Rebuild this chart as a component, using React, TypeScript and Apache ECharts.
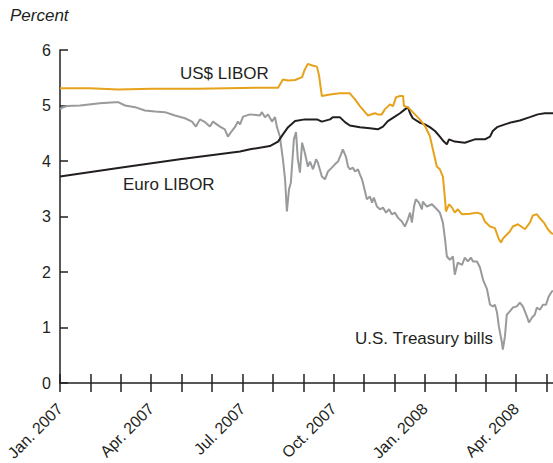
import React, { useEffect, useRef } from "react";
import * as echarts from "echarts";

// x values are months since Jan. 2007 (0 = Jan. 2007, 12 = Jan. 2008)
const monthLabels = ["Jan. 2007", "Apr. 2007", "Jul. 2007", "Oct. 2007", "Jan. 2008", "Apr. 2008"];
const yTicks = [0, 1, 2, 3, 4, 5, 6];

const usdLiborMonths = [0, 0.99, 1.91, 3.0, 4.5, 5.5, 6.5, 7.17, 7.33, 7.5, 7.73, 7.96, 8.05, 8.15, 8.3, 8.45, 8.52, 8.61, 8.88, 9.2, 9.53, 9.7, 9.86, 10.03, 10.12, 10.36, 10.45, 10.58, 10.68, 10.85, 10.95, 11.05, 11.18, 11.28, 11.31, 11.44, 11.67, 11.83, 12.0, 12.16, 12.26, 12.39, 12.49, 12.59, 12.66, 12.69, 12.79, 12.89, 12.98, 13.08, 13.22, 13.48, 13.71, 13.87, 13.97, 14.14, 14.3, 14.43, 14.5, 14.56, 14.79, 14.89, 15.06, 15.29, 15.45, 15.55, 15.68, 15.81, 15.91, 16.04, 16.14, 16.21];
const usdLiborValues = [5.31, 5.31, 5.29, 5.3, 5.3, 5.31, 5.32, 5.32, 5.47, 5.45, 5.46, 5.51, 5.65, 5.75, 5.72, 5.7, 5.53, 5.17, 5.2, 5.22, 5.22, 5.11, 4.99, 4.88, 4.82, 4.86, 4.84, 4.84, 4.93, 5.02, 4.99, 5.15, 5.17, 5.17, 4.99, 4.97, 4.84, 4.75, 4.63, 4.45, 4.21, 3.9, 3.85, 3.72, 3.31, 3.09, 3.22, 3.16, 3.07, 3.13, 3.04, 3.05, 3.07, 3.04, 2.91, 2.82, 2.79, 2.59, 2.53, 2.6, 2.73, 2.82, 2.86, 2.77, 2.89, 3.02, 3.04, 2.95, 2.89, 2.77, 2.71, 2.68];

const euroLiborMonths = [0, 1.97, 3.94, 5.92, 6.25, 6.9, 7.17, 7.33, 7.5, 7.73, 8.05, 8.45, 8.61, 8.88, 8.97, 9.2, 9.37, 9.53, 9.86, 10.19, 10.45, 10.62, 10.78, 11.01, 11.18, 11.34, 11.44, 11.51, 11.6, 11.83, 12.0, 12.16, 12.33, 12.49, 12.62, 12.72, 12.79, 12.98, 13.31, 13.64, 13.97, 14.14, 14.23, 14.37, 14.63, 14.86, 15.12, 15.45, 15.71, 15.94, 16.21];
const euroLiborValues = [3.72, 3.88, 4.03, 4.17, 4.21, 4.27, 4.35, 4.48, 4.61, 4.72, 4.75, 4.75, 4.71, 4.75, 4.79, 4.79, 4.7, 4.64, 4.61, 4.59, 4.57, 4.62, 4.72, 4.8, 4.86, 4.93, 4.97, 4.86, 4.77, 4.69, 4.66, 4.61, 4.54, 4.44, 4.35, 4.3, 4.39, 4.35, 4.33, 4.39, 4.39, 4.44, 4.54, 4.61, 4.66, 4.7, 4.73, 4.79, 4.84, 4.86, 4.86];

const tbillMonths = [0, 0.1, 0.23, 0.66, 1.31, 1.81, 1.91, 2.14, 2.47, 2.79, 3.12, 3.45, 3.78, 4.11, 4.34, 4.47, 4.6, 4.77, 4.93, 5.03, 5.26, 5.42, 5.52, 5.65, 5.75, 5.85, 5.92, 6.02, 6.25, 6.57, 6.64, 6.74, 6.84, 6.97, 7.07, 7.13, 7.23, 7.33, 7.4, 7.46, 7.53, 7.59, 7.69, 7.76, 7.82, 7.89, 7.96, 8.05, 8.15, 8.22, 8.32, 8.42, 8.48, 8.61, 8.71, 8.81, 8.94, 9.04, 9.14, 9.24, 9.3, 9.4, 9.47, 9.53, 9.63, 9.7, 9.8, 9.86, 9.93, 9.99, 10.09, 10.19, 10.26, 10.32, 10.42, 10.52, 10.62, 10.72, 10.82, 10.91, 11.01, 11.11, 11.24, 11.34, 11.44, 11.51, 11.57, 11.64, 11.7, 11.8, 11.9, 11.93, 12.06, 12.23, 12.39, 12.49, 12.59, 12.66, 12.72, 12.82, 12.92, 12.98, 13.08, 13.22, 13.31, 13.41, 13.51, 13.58, 13.71, 13.81, 13.91, 14.04, 14.14, 14.23, 14.3, 14.37, 14.43, 14.53, 14.56, 14.63, 14.69, 14.79, 14.89, 15.02, 15.12, 15.22, 15.35, 15.42, 15.52, 15.61, 15.68, 15.78, 15.88, 15.98, 16.07, 16.17, 16.21];
const tbillValues = [4.93, 4.97, 4.99, 5.0, 5.04, 5.06, 5.06, 5.0, 4.97, 4.91, 4.89, 4.88, 4.82, 4.77, 4.71, 4.62, 4.75, 4.7, 4.62, 4.71, 4.62, 4.57, 4.44, 4.54, 4.61, 4.71, 4.66, 4.8, 4.84, 4.82, 4.88, 4.79, 4.84, 4.71, 4.79, 4.62, 4.44, 4.03, 3.67, 3.09, 3.49, 3.61, 4.39, 4.52, 4.03, 3.79, 4.33, 4.15, 3.9, 3.99, 3.85, 4.03, 3.97, 3.72, 3.67, 3.81, 3.88, 3.94, 3.99, 4.12, 4.21, 4.08, 3.9, 3.85, 3.88, 3.81, 3.85, 3.76, 3.67, 3.54, 3.31, 3.36, 3.25, 3.34, 3.18, 3.13, 3.16, 3.07, 3.13, 3.04, 3.07, 2.98, 2.91, 2.82, 2.95, 3.07, 2.89, 3.18, 3.31, 3.25, 3.13, 3.27, 3.18, 3.22, 3.13, 3.07, 2.89, 2.59, 2.28, 2.22, 2.28, 1.95, 2.17, 2.13, 2.26, 2.19, 2.26, 2.19, 2.19, 2.08, 1.86, 1.69, 1.41, 1.38, 1.41, 1.27, 1.02, 0.73, 0.6, 0.84, 1.23, 1.29, 1.36, 1.38, 1.45, 1.38, 1.2, 1.09, 1.18, 1.23, 1.36, 1.32, 1.41, 1.41, 1.56, 1.65, 1.66];

const X_MAX = 16.21;
const FONT = "'Liberation Sans', Arial, Helvetica, sans-serif";
const INK = "#231f20";

const zip = (xs: number[], ys: number[]) => xs.map((x, i) => [x, ys[i]]);

export default function App() {
  const ref = useRef<HTMLDivElement>(null);
  useEffect(() => {
    if (!ref.current) return;
    const chart = echarts.init(ref.current, undefined, { renderer: "svg" });
    const monthTicks = Array.from({ length: 17 }, (_, i) => i);
    const labelTicks = monthLabels.map((_, i) => i * 3);
    const xBase = {
      type: "value",
      min: 0,
      max: X_MAX,
      interval: 1,
      position: "bottom",
      splitLine: { show: false },
    };
    chart.setOption({
      animation: false,
      backgroundColor: "#ffffff",
      grid: { left: 60, right: 0, top: 50, bottom: 80, containLabel: false, outerBoundsMode: "none" },
      xAxis: [
        {
          ...xBase,
          axisLine: { show: true, lineStyle: { color: INK, width: 1.5 } },
          axisTick: { show: true, inside: false, length: 9, customValues: monthTicks, lineStyle: { color: INK, width: 1.5 } },
          axisLabel: {
            show: true,
            customValues: labelTicks,
            rotate: 45,
            margin: 23,
            color: INK,
            fontSize: 16,
            fontFamily: FONT,
            formatter: (v: number) => monthLabels[Math.round(v / 3)] ?? "",
          },
        },
        {
          ...xBase,
          axisLine: { show: false },
          axisTick: { show: true, inside: true, length: 9, customValues: monthTicks, lineStyle: { color: INK, width: 1.5 } },
          axisLabel: { show: false },
        },
      ],
      yAxis: {
        type: "value",
        min: 0,
        max: 6,
        interval: 1,
        axisLine: { show: true, lineStyle: { color: INK, width: 1.5 } },
        axisTick: { show: true, inside: true, length: 8, lineStyle: { color: INK, width: 1.5 } },
        axisLabel: {
          color: INK,
          fontSize: 16,
          fontFamily: FONT,
          margin: 9,
          formatter: (v: number) => (yTicks.includes(v) ? String(v) : ""),
        },
        splitLine: { show: false },
      },
      series: [
        {
          name: "U.S. Treasury bills",
          type: "line",
          xAxisIndex: 0,
          data: zip(tbillMonths, tbillValues),
          showSymbol: false,
          lineStyle: { color: "#999a9c", width: 2 },
          z: 2,
        },
        {
          name: "Euro LIBOR",
          type: "line",
          xAxisIndex: 0,
          data: zip(euroLiborMonths, euroLiborValues),
          showSymbol: false,
          lineStyle: { color: "#231f20", width: 2 },
          z: 3,
        },
        {
          name: "US$ LIBOR",
          type: "line",
          xAxisIndex: 0,
          data: zip(usdLiborMonths, usdLiborValues),
          showSymbol: false,
          lineStyle: { color: "#e6a21a", width: 2 },
          z: 4,
        },
      ],
      graphic: [
        {
          type: "text",
          left: 10,
          top: 7,
          style: { text: "Percent", fontSize: 17, fontStyle: "italic", fontFamily: FONT, fill: INK },
        },
        {
          type: "text",
          x: 180,
          y: 73,
          style: { text: "US$ LIBOR", fontSize: 17, fontFamily: FONT, fill: INK, verticalAlign: "middle", align: "left" },
        },
        {
          type: "text",
          x: 123,
          y: 184,
          style: { text: "Euro LIBOR", fontSize: 17, fontFamily: FONT, fill: INK, verticalAlign: "middle", align: "left" },
        },
        {
          type: "text",
          x: 355,
          y: 338,
          style: { text: "U.S. Treasury bills", fontSize: 17, fontFamily: FONT, fill: INK, verticalAlign: "middle", align: "left" },
        },
      ],
    });
    return () => chart.dispose();
  }, []);
  return (
    <div
      ref={ref}
      style={{ position: "absolute", left: 0, top: 0, width: 553, height: 463, background: "#fff" }}
    />
  );
}
